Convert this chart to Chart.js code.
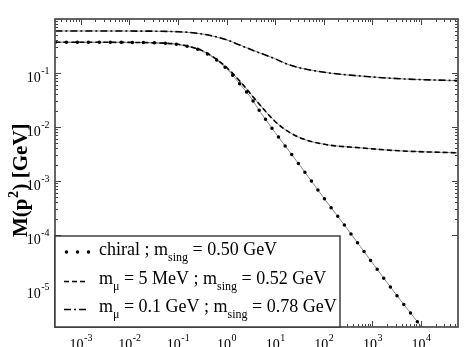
<!DOCTYPE html>
<html>
<head>
<meta charset="utf-8">
<script src="https://cdn.jsdelivr.net/npm/chart.js@4/dist/chart.umd.min.js"></script>
<style>
  html, body { margin: 0; padding: 0; background: #fff; }
  #wrap { width: 469px; height: 347px; }
</style>
</head>
<body>
<div id="wrap"><canvas id="massChart"></canvas></div>
<script>
// p^2 [GeV^2] and M(p^2) [GeV]
const p2Chiral = [3e-4, 1e-3, 1e-2, 0.05, 0.1, 0.2, 0.3, 0.5, 0.7, 1, 2, 3, 5, 7, 10, 30, 100, 300, 1000, 3000, 1e4];
const mChiral  = [0.37, 0.37, 0.368, 0.356, 0.338, 0.295, 0.26, 0.2, 0.16, 0.12, 0.058, 0.037, 0.0185, 0.0122, 0.0078, 0.0021, 4.8e-4, 1.3e-4, 3.0e-5, 8.0e-6, 2.0e-6];

const p2Mev5 = [3e-4, 1e-3, 1e-2, 0.05, 0.1, 0.2, 0.3, 0.5, 1, 2, 3.5, 6, 9, 14, 32, 110, 550, 3600, 5.75e4];
const mMev5  = [0.37, 0.37, 0.368, 0.357, 0.34, 0.298, 0.265, 0.205, 0.126, 0.066, 0.036, 0.0205, 0.0138, 0.0097, 0.0063, 0.0047, 0.0041, 0.0036, 0.0033];

const p2Gev01 = [3e-4, 1e-3, 1e-2, 0.1, 0.2, 0.39, 1, 1.86, 4, 9, 20, 81, 870, 5000, 5.75e4];
const mGev01  = [0.60, 0.60, 0.598, 0.58, 0.555, 0.51, 0.41, 0.33, 0.25, 0.19, 0.14, 0.106, 0.085, 0.077, 0.072];

// legend text: [before sub, sub, middle, sub, after]
const legendRows = [
  ['chiral ; m', 'sing', ' = 0.50 GeV'],
  ['m', '\u03bc', ' = 5 MeV ; m', 'sing', ' = 0.52 GeV'],
  ['m', '\u03bc', ' = 0.1 GeV ; m', 'sing', ' = 0.78 GeV']
];

const xTickExps = [-3, -2, -1, 0, 1, 2, 3, 4];
const yTickExps = [-5, -4, -3, -2, -1];

const serif = '"Liberation Serif", "Times New Roman", serif';
const dotDash = [0, 11];
const shortDash = [5, 3];
const dashDot = [7, 3, 2, 3];

function toPoints(xs, ys) {
  return xs.map((x, i) => ({ x: x, y: ys[i] }));
}

function underlay(xs, ys) {
  return {
    data: toPoints(xs, ys),
    borderColor: '#8a8a8a',
    borderWidth: 1,
    pointRadius: 0,
    cubicInterpolationMode: 'monotone',
    order: 2
  };
}

function overlay(xs, ys, dash, width, cap) {
  return {
    data: toPoints(xs, ys),
    borderColor: '#000',
    borderWidth: width,
    borderDash: dash,
    borderCapStyle: cap,
    pointRadius: 0,
    cubicInterpolationMode: 'monotone',
    order: 1
  };
}

const styles = [
  { dash: dotDash, width: 3.5, cap: 'round' },
  { dash: shortDash, width: 1.6, cap: 'butt' },
  { dash: dashDot, width: 1.6, cap: 'butt' }
];

// draws "10" with a raised exponent
function drawPower(ctx, x, baseY, exp, align) {
  ctx.font = '14px ' + serif;
  const wBase = ctx.measureText('10').width;
  ctx.font = '10px ' + serif;
  const expStr = String(exp);
  const wExp = ctx.measureText(expStr).width;
  let start = x;
  if (align === 'center') start = x - (wBase + wExp) / 2;
  if (align === 'right') start = x - (wBase + wExp);
  ctx.textAlign = 'left';
  ctx.textBaseline = 'alphabetic';
  ctx.font = '14px ' + serif;
  ctx.fillText('10', start, baseY);
  ctx.font = '10px ' + serif;
  ctx.fillText(expStr, start + wBase + 0.5, baseY - 8);
}

const decorPlugin = {
  id: 'decor',
  afterDatasetsDraw(chart) {
    const ctx = chart.ctx;
    const a = chart.chartArea;
    const xs = chart.scales.x;
    const ys = chart.scales.y;
    ctx.save();
    ctx.fillStyle = '#000';
    ctx.strokeStyle = '#444';
    ctx.lineWidth = 1;

    // minor + major ticks on all four sides
    for (let d = -4; d <= 5; d++) {
      for (let k = 1; k <= 9; k++) {
        const v = k * Math.pow(10, d);
        const len = k === 1 ? 6 : 3;
        if (v >= xs.min && v <= xs.max) {
          const px = Math.round(xs.getPixelForValue(v)) + 0.5;
          ctx.beginPath();
          ctx.moveTo(px, a.bottom); ctx.lineTo(px, a.bottom - len);
          ctx.moveTo(px, a.top); ctx.lineTo(px, a.top + len);
          ctx.stroke();
        }
        if (v >= ys.min && v <= ys.max) {
          const py = Math.round(ys.getPixelForValue(v)) + 0.5;
          ctx.beginPath();
          ctx.moveTo(a.left, py); ctx.lineTo(a.left + len, py);
          ctx.moveTo(a.right, py); ctx.lineTo(a.right - len, py);
          ctx.stroke();
        }
      }
    }

    // frame
    ctx.strokeStyle = '#555';
    ctx.lineWidth = 1.8;
    ctx.strokeRect(a.left, a.top, a.right - a.left, a.bottom - a.top);

    // tick labels
    xTickExps.forEach(e => {
      drawPower(ctx, xs.getPixelForValue(Math.pow(10, e)), a.bottom + 22, e, 'center');
    });
    yTickExps.forEach(e => {
      drawPower(ctx, a.left - 6, ys.getPixelForValue(Math.pow(10, e)) + 9, e, 'right');
    });

    // legend box
    const bx = a.left, by = 236, bw = 340 - a.left, bh = a.bottom - 236;
    ctx.fillStyle = '#fff';
    ctx.fillRect(bx, by, bw, bh);
    ctx.strokeStyle = '#333';
    ctx.lineWidth = 1.4;
    ctx.strokeRect(bx, by, bw, bh);

    const rowBase = [255, 284, 312];
    legendRows.forEach((parts, i) => {
      const st = styles[i];
      ctx.save();
      ctx.strokeStyle = '#000';
      ctx.lineWidth = st.width;
      ctx.lineCap = st.cap;
      ctx.setLineDash(st.dash);
      ctx.beginPath();
      const ly = rowBase[i] - (i === 0 ? 3 : 2.5);
      ctx.moveTo(i === 0 ? 66.5 : 64, ly);
      ctx.lineTo(i === 0 ? 90 : 88, ly);
      ctx.stroke();
      ctx.restore();

      ctx.fillStyle = '#000';
      ctx.textAlign = 'left';
      ctx.textBaseline = 'alphabetic';
      let x = 99;
      parts.forEach((t, j) => {
        const isSub = (t === 'sing' || t === '\u03bc');
        ctx.font = (isSub ? '12px ' : '18px ') + serif;
        ctx.fillText(t, x, rowBase[i] + (isSub ? 6 : 0));
        x += ctx.measureText(t).width;
      });
    });

    // y axis title, rotated
    ctx.save();
    ctx.translate(27, 237);
    ctx.rotate(-Math.PI / 2);
    ctx.fillStyle = '#000';
    ctx.textAlign = 'left';
    ctx.textBaseline = 'alphabetic';
    let tx = 0;
    ctx.font = 'bold 21px ' + serif;
    ctx.fillText('M(p', tx, 0);
    tx += ctx.measureText('M(p').width;
    ctx.font = 'bold 14px ' + serif;
    ctx.fillText('2', tx + 0.5, -9);
    tx += ctx.measureText('2').width + 1;
    ctx.font = 'bold 21px ' + serif;
    ctx.fillText(') [GeV]', tx, 0);
    ctx.restore();

    ctx.restore();
  }
};

const datasets = [
  underlay(p2Chiral, mChiral),
  underlay(p2Mev5, mMev5),
  underlay(p2Gev01, mGev01),
  overlay(p2Chiral, mChiral, styles[0].dash, styles[0].width, styles[0].cap),
  overlay(p2Mev5, mMev5, styles[1].dash, styles[1].width, styles[1].cap),
  overlay(p2Gev01, mGev01, styles[2].dash, styles[2].width, styles[2].cap)
];

new Chart(document.getElementById('massChart'), {
  type: 'line',
  data: { datasets: datasets },
  options: {
    responsive: true,
    maintainAspectRatio: false,
    animation: false,
    parsing: true,
    layout: { padding: { left: 55, right: 11, top: 19, bottom: 20 } },
    plugins: { legend: { display: false }, tooltip: { enabled: false } },
    scales: {
      x: {
        type: 'logarithmic',
        min: 2.95e-4,
        max: 5.75e4,
        ticks: { display: false },
        grid: { display: false },
        border: { display: false },
        afterFit: s => { s.height = 0; }
      },
      y: {
        type: 'logarithmic',
        min: 1.95e-6,
        max: 1,
        ticks: { display: false },
        grid: { display: false },
        border: { display: false },
        afterFit: s => { s.width = 0; }
      }
    }
  },
  plugins: [decorPlugin]
});
</script>
</body>
</html>
